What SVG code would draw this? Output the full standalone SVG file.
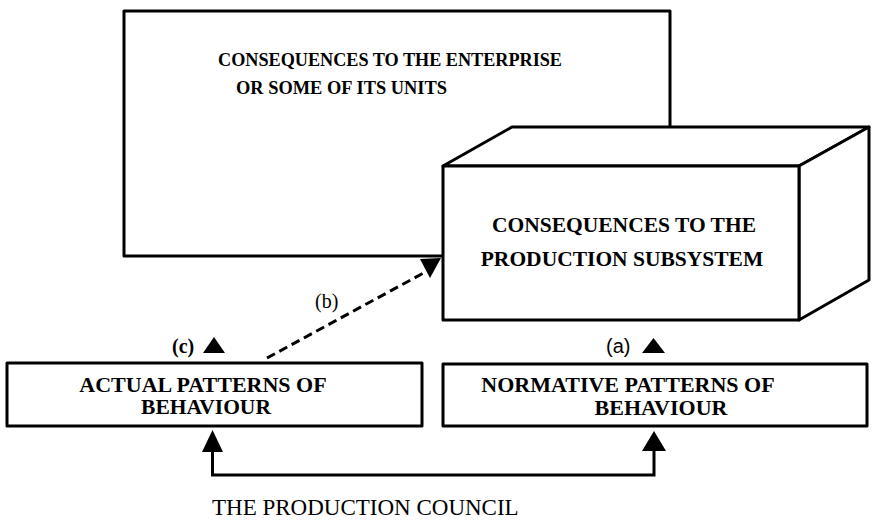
<svg xmlns="http://www.w3.org/2000/svg" width="872" height="527" viewBox="0 0 872 527">
<style>
.box{fill:#fff;stroke:#000;stroke-width:3;stroke-linejoin:round}
.ln{fill:none;stroke:#000;stroke-width:3}
.dash{fill:none;stroke:#000;stroke-width:3;stroke-dasharray:9 5}
.hd{fill:#000}
.bt{font-family:"Liberation Serif",serif;font-weight:bold;font-size:21.5px;fill:#000}
.bb{font-family:"Liberation Serif",serif;font-weight:bold;font-size:22px;fill:#000}
.tt{font-family:"Liberation Serif",serif;font-weight:bold;font-size:19.5px;fill:#000}
.lb{font-family:"Liberation Serif",serif;font-size:20px;fill:#000}
</style>
<rect width="872" height="527" fill="#fff"/>
<g id="enterprise">
<rect class="box" x="124" y="11" width="546" height="245"/>
<text class="tt" x="218" y="66" textLength="344" lengthAdjust="spacingAndGlyphs">CONSEQUENCES TO THE ENTERPRISE</text>
<text class="tt" x="236" y="94" textLength="211" lengthAdjust="spacingAndGlyphs">OR SOME OF ITS UNITS</text>
</g>
<g id="production-subsystem">
<polygon class="box" points="443,166 512,127 869,127 799,166"/>
<polygon class="box" points="799,166 869,127 869,280 799,320"/>
<rect class="box" x="443" y="166" width="356" height="154"/>
<text class="bt" x="624" y="232" text-anchor="middle">CONSEQUENCES TO THE</text>
<text class="bt" x="622" y="266" text-anchor="middle">PRODUCTION SUBSYSTEM</text>
</g>
<g id="actual">
<rect class="box" x="7" y="363" width="415" height="63"/>
<text class="bb" x="203" y="392" text-anchor="middle">ACTUAL PATTERNS OF</text>
<text class="bt" x="206" y="414" text-anchor="middle">BEHAVIOUR</text>
</g>
<g id="normative">
<rect class="box" x="443" y="364" width="424" height="62"/>
<text class="bb" x="628" y="392" text-anchor="middle">NORMATIVE PATTERNS OF</text>
<text class="bb" x="661" y="415" text-anchor="middle">BEHAVIOUR</text>
</g>
<g id="labels">
<text class="lb" x="315" y="308">(b)</text>
<text class="lb" x="172" y="353" font-weight="bold" font-size="22">(c)</text>
<polygon class="hd" points="203,353 225,353 214,337"/>
<text x="606" y="353" font-family="Liberation Sans, sans-serif" font-size="20" fill="#000">(a)</text>
<polygon class="hd" points="642,353 665,353 653.5,338"/>
</g>
<g id="council">
<text x="212" y="515" font-family="Liberation Serif, serif" font-size="23" fill="#000">THE PRODUCTION COUNCIL</text>
</g>
<g id="connectors">
<path class="dash" d="M267,358 L429,270"/>
<polygon class="hd" points="441,258 420,259 430,278"/>
<path class="ln" d="M212.5,452 V475 H654 V451"/>
<polygon class="hd" points="202,452 223,452 212.5,430"/>
<polygon class="hd" points="642,451 666,451 654,431"/>
</g>
</svg>
